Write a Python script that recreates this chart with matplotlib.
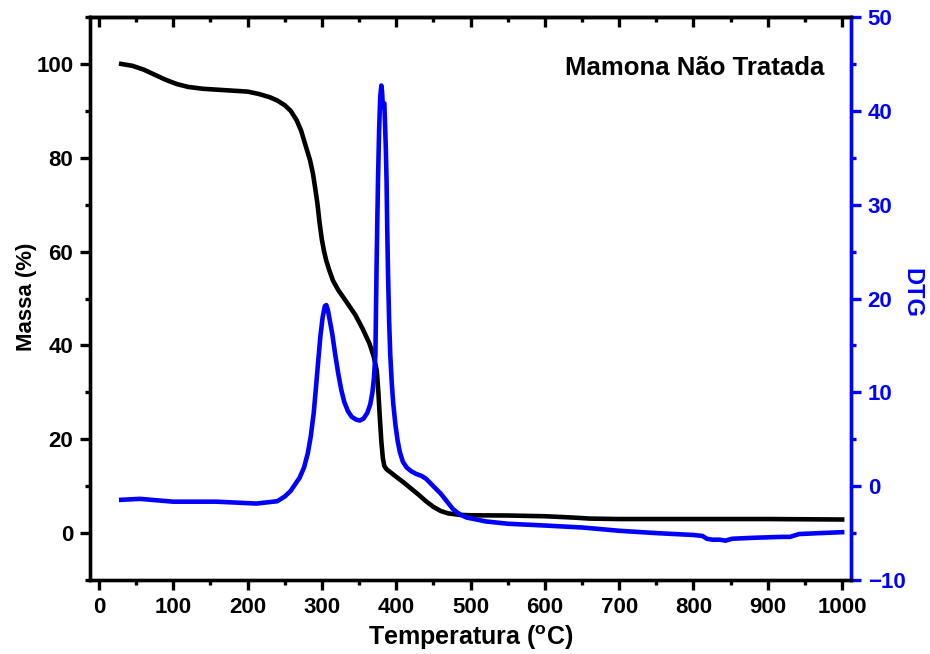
import numpy as np
import matplotlib.pyplot as plt
from matplotlib.ticker import MultipleLocator

plt.rcParams['font.family'] = 'Liberation Sans'
plt.rcParams['font.weight'] = 'bold'
plt.rcParams['mathtext.fontset'] = 'custom'
plt.rcParams['mathtext.rm'] = 'Liberation Sans:bold'
plt.rcParams['mathtext.bf'] = 'Liberation Sans:bold'

# TG curve (mass %)
temp_tg = [30, 45, 60, 75, 90, 105, 120, 140, 160, 180, 200, 215, 230, 240, 250, 258,
           266, 272, 279, 284, 288, 291, 294, 297, 300, 303, 306, 310, 315, 322, 333,
           345, 355, 364, 370, 374, 376, 378, 380, 382, 384, 387, 392, 400, 410, 420,
           430, 440, 450, 460, 470, 485, 500, 550, 600, 640, 660, 700, 800, 900, 1000]
massa = [100, 99.6, 98.8, 97.7, 96.6, 95.7, 95.1, 94.7, 94.5, 94.3, 94.1, 93.6, 92.9,
         92.2, 91.2, 90.0, 88.0, 85.8, 82.1, 79.5, 76.6, 73.5, 70.2, 66.0, 62.5, 60.0,
         58.0, 56.0, 53.8, 51.8, 49.3, 46.5, 43.5, 40.4, 37.5, 34.5, 30.0, 24.5, 19.5,
         16.0, 14.3, 13.6, 13.0, 12.0, 10.8, 9.5, 8.2, 6.8, 5.6, 4.7, 4.2, 3.9, 3.8,
         3.75, 3.6, 3.3, 3.1, 3.0, 3.0, 3.0, 2.9]

# DTG curve
temp_dtg = [30, 55, 100, 158, 212, 240, 250, 258, 264, 270, 276, 281, 285, 289, 292,
            295, 298, 301, 304, 306, 308, 311, 314, 318, 322, 326, 330, 335, 340, 346,
            351, 356, 361, 365, 368, 370, 372, 373.5, 374.5, 375.5, 377, 378.5, 380,
            381, 382, 383, 384, 385, 386, 387, 388, 389, 390.5, 392, 394, 396, 399,
            402, 405, 409, 414, 420, 427, 434, 440, 445, 450, 455, 460, 465, 470, 476,
            482, 488, 495, 505, 520, 550, 602, 650, 700, 750, 800, 812, 818, 825, 835,
            843, 852, 880, 919, 930, 942, 970, 1000]
dtg = [-1.45, -1.35, -1.65, -1.65, -1.85, -1.6, -1.1, -0.5, 0.2, 0.9, 2.0, 3.5, 5.3,
       7.8, 10.5, 13.3, 16.0, 18.0, 19.2, 19.3, 18.8, 17.5, 16.2, 14.0, 12.0, 10.3, 9.0,
       8.0, 7.4, 7.1, 7.0, 7.2, 7.8, 8.7, 10.0, 11.5, 14.0, 23.0, 28.0, 32.6, 38.0,
       41.5, 42.7, 42.0, 40.5, 40.8, 40.8, 38.5, 36.0, 32.6, 27.0, 22.6, 17.5, 14.0,
       11.0, 8.8, 6.5, 4.8, 3.6, 2.6, 2.0, 1.6, 1.3, 1.1, 0.8, 0.4, 0.0, -0.4, -0.8,
       -1.3, -1.8, -2.4, -2.8, -3.1, -3.35, -3.5, -3.75, -4.0, -4.2, -4.4, -4.75, -5.0,
       -5.2, -5.3, -5.6, -5.7, -5.7, -5.8, -5.6, -5.5, -5.4, -5.4, -5.1, -5.0, -4.9]

fig = plt.figure(figsize=(9.3, 6.54), dpi=100)
ax = fig.add_axes([0.0968, 0.1131, 0.8183, 0.8609])
ax2 = ax.twinx()

ax.plot(temp_tg, massa, color='black', linewidth=3.3, zorder=3,
        solid_joinstyle='round')
ax2.plot(temp_dtg, dtg, color='blue', linewidth=3.3, solid_joinstyle='round')

ax.set_xlim(-12, 1012)
ax.set_ylim(-10, 110)
ax2.set_ylim(-10, 50)

ax.xaxis.set_major_locator(MultipleLocator(100))
ax.xaxis.set_minor_locator(MultipleLocator(50))
ax.yaxis.set_major_locator(MultipleLocator(20))
ax.yaxis.set_minor_locator(MultipleLocator(10))
ax2.yaxis.set_major_locator(MultipleLocator(10))
ax2.yaxis.set_minor_locator(MultipleLocator(5))

for s in ax.spines.values():
    s.set_linewidth(2.4)
for s in ax2.spines.values():
    s.set_linewidth(2.4)
ax2.spines['right'].set_color('blue')

ax.tick_params(axis='both', which='major', direction='out', length=7, width=2.4,
               labelsize=16, pad=5)
ax.tick_params(axis='both', which='minor', direction='out', length=3.5, width=2.4)
ax2.tick_params(axis='y', which='major', direction='out', length=7, width=2.4,
                colors='blue', labelsize=16, pad=5)
ax2.tick_params(axis='y', which='minor', direction='out', length=3.5, width=2.4,
                colors='blue')

top = ax.secondary_xaxis('top')
top.xaxis.set_major_locator(MultipleLocator(100))
top.xaxis.set_minor_locator(MultipleLocator(50))
top.tick_params(which='major', direction='in', length=7, width=2.4, labeltop=False)
top.tick_params(which='minor', direction='in', length=3.5, width=2.4)
top.spines['top'].set_linewidth(2.4)

for lab in ax.get_xticklabels() + ax.get_yticklabels() + ax2.get_yticklabels():
    lab.set_fontweight('bold')

ax.set_xlabel(r'Temperatura ($^{\mathrm{o}}$C)', fontsize=18, fontweight='bold', labelpad=4)
ax.set_ylabel('Massa (%)', fontsize=16, fontweight='bold')
ax2.set_ylabel('DTG', fontsize=17, fontweight='bold', color='blue', rotation=270)
ax.yaxis.set_label_coords(-0.07, 0.503)
ax2.yaxis.set_label_coords(1.095, 0.51)

ax.text(0.965, 0.91, 'Mamona Não Tratada', transform=ax.transAxes, ha='right',
        va='center', fontsize=18.5, fontweight='bold')

fig.savefig('out.png', dpi=100)
